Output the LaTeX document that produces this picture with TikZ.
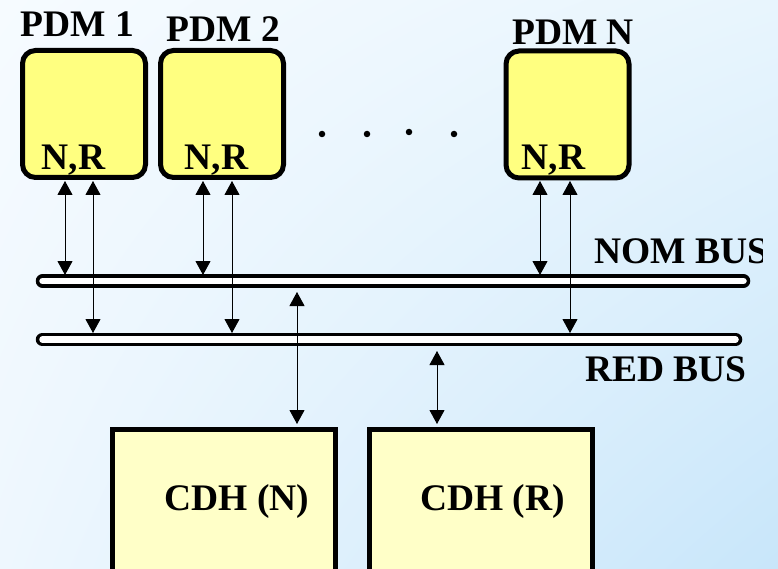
\documentclass[tikz,border=0pt]{standalone}
\usepackage{fontspec}
\setmainfont{Liberation Serif}
\usetikzlibrary{arrows.meta,shadings}
\definecolor{pdmfill}{HTML}{FFFF80}
\definecolor{cdhfill}{HTML}{FFFFC8}
\definecolor{bgTL}{RGB}{246,251,255}
\definecolor{bgTR}{RGB}{232,245,253}
\definecolor{bgBL}{RGB}{238,247,254}
\definecolor{bgBR}{RGB}{200,230,250}
\tikzset{
  lbl/.style={font=\fontsize{37.5}{40}\selectfont\bfseries, inner sep=0pt},
  pdmbox/.style={draw, line width=5pt, fill=pdmfill, rounded corners=13pt, minimum width=123pt, minimum height=127pt, inner sep=0pt, outer sep=0pt},
  cdhbox/.style={draw, line width=5pt, fill=cdhfill, minimum width=223pt, minimum height=170pt, inner sep=0pt, outer sep=0pt, anchor=north},
  link/.style={line width=0.9pt, {Triangle[length=14pt,width=15pt]}-{Triangle[length=14pt,width=15pt]}},
  dotm/.style={fill, circle, inner sep=0pt, minimum size=6.5pt},
}
\newcommand{\busline}[3]{%
  \draw[line width=13.5pt, line cap=round] (#1,#3) -- (#2,#3);
  \draw[white, line width=6.5pt, line cap=round] (#1,#3) -- (#2,#3);
}
\begin{document}
\begin{tikzpicture}[x={(1pt,0)}, y={(0,-1pt)}]
\useasboundingbox (0,0) rectangle (778,569);
\clip (0,0) rectangle (778,569);
\shade[upper left=bgTL, upper right=bgTR, lower left=bgBL, lower right=bgBR] (0,0) rectangle (778,569);

% PDM modules
\node[pdmbox] (p1) at (84,114) {};
\node[pdmbox] (p2) at (222,114) {};
\node[pdmbox] (pn) at (567.5,114.5) {};
\node[lbl, anchor=base] (p1t) at (77.5,37) {PDM 1};
\node[lbl, anchor=base] (p2t) at (223.5,42) {PDM 2};
\node[lbl, anchor=base] (pnt) at (573,45) {PDM N};
\node[lbl, anchor=base] (p1nr) at (73.5,170) {N,R};
\node[lbl, anchor=base] (p2nr) at (216.5,170) {N,R};
\node[lbl, anchor=base] (pnnr) at (553.5,170) {N,R};

% dots
\node[dotm] (d1) at (322,134) {};
\node[dotm] (d2) at (367,134) {};
\node[dotm] (d3) at (409,132) {};
\node[dotm] (d4) at (454,134) {};

% buses
\busline{42.5}{743.5}{281}
\busline{42.5}{735.5}{339.5}
\begin{scope}
\clip (0,0) rectangle (762,569);
\node[lbl, anchor=base west] (nomt) at (594,263) {NOM BUS};
\end{scope}
\node[lbl, anchor=base west] (redt) at (585,381) {RED BUS};

% CDH boxes
\node[cdhbox] (cn) at (224,429.5) {};
\node[cdhbox] (cr) at (481,429.5) {};
\node[lbl, anchor=base] (cnt) at (237,510) {CDH (N)};
\node[lbl, anchor=base] (crt) at (492.5,510) {CDH (R)};

% connection points
\coordinate (a1) at (65,181);   \coordinate (b1) at (65,275);
\coordinate (a2) at (93,181);   \coordinate (b2) at (93,333);
\coordinate (a3) at (203,181);  \coordinate (b3) at (203,275);
\coordinate (a4) at (232,181);  \coordinate (b4) at (232,333);
\coordinate (a5) at (540,181);  \coordinate (b5) at (540,275);
\coordinate (a6) at (570,181);  \coordinate (b6) at (570,333);
\coordinate (c1) at (297,292);  \coordinate (e1) at (297,424);
\coordinate (c2) at (437,351);  \coordinate (e2) at (437,424);

\draw[link] (a1) -- (b1);
\draw[link] (a2) -- (b2);
\draw[link] (a3) -- (b3);
\draw[link] (a4) -- (b4);
\draw[link] (a5) -- (b5);
\draw[link] (a6) -- (b6);
\draw[link] (c1) -- (e1);
\draw[link] (c2) -- (e2);
\end{tikzpicture}
\end{document}
